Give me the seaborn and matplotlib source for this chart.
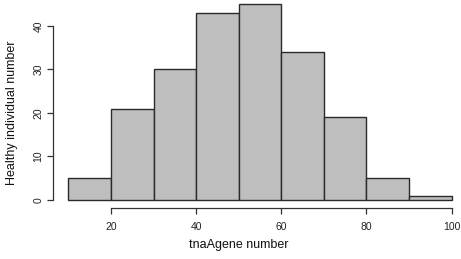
import matplotlib
matplotlib.use("Agg")
import matplotlib.pyplot as plt
import seaborn as sns
import numpy as np
import pandas as pd

bin_edges = [10, 20, 30, 40, 50, 60, 70, 80, 90, 100]
counts = [5, 21, 30, 43, 45, 34, 19, 5, 1]
x_ticks = [20, 40, 60, 80, 100]
y_ticks = [0, 10, 20, 30, 40]

sns.set_theme(style="ticks")
plt.rcParams['font.family'] = ['Liberation Sans', 'DejaVu Sans']

centers = [(a + b) / 2 for a, b in zip(bin_edges[:-1], bin_edges[1:])]
df = pd.DataFrame({"gene": centers, "n": counts})

fig = plt.figure(figsize=(4.61, 2.59), dpi=100)
ax = fig.add_axes([0.115, 0.198, 0.898, 0.816])
sns.histplot(data=df, x="gene", weights="n", bins=bin_edges, ax=ax,
             color="#bebebe", edgecolor="#2a2a2a", linewidth=1.0, alpha=1.0)

ax.set_xlim(6.4, 103.6)
ax.set_ylim(-1.8, 46.8)
ax.spines['top'].set_visible(False)
ax.spines['right'].set_visible(False)
ax.spines['left'].set_bounds(0, 40)
ax.spines['bottom'].set_bounds(20, 100)
for s in ('left', 'bottom'):
    ax.spines[s].set_color('#333333')
    ax.spines[s].set_linewidth(0.9)
ax.set_xticks(x_ticks)
ax.set_yticks(y_ticks)
ax.tick_params(axis='both', length=4, width=0.9, color='#333333',
               labelsize=7.5, labelcolor='#222222')
ax.tick_params(axis='x', pad=6)
ax.tick_params(axis='y', pad=3)
for lab in ax.get_yticklabels():
    lab.set_rotation(90)
    lab.set_va('center')
ax.set_xlabel("tnaAgene number", fontsize=9, color='#111111')
ax.set_ylabel("Healthy individual number", fontsize=9, color='#111111')
ax.xaxis.set_label_coords(0.449, -0.147)
ax.yaxis.set_label_coords(-0.085, 0.45)
ax.patch.set_alpha(0)

fig.savefig("out.png", dpi=100)
